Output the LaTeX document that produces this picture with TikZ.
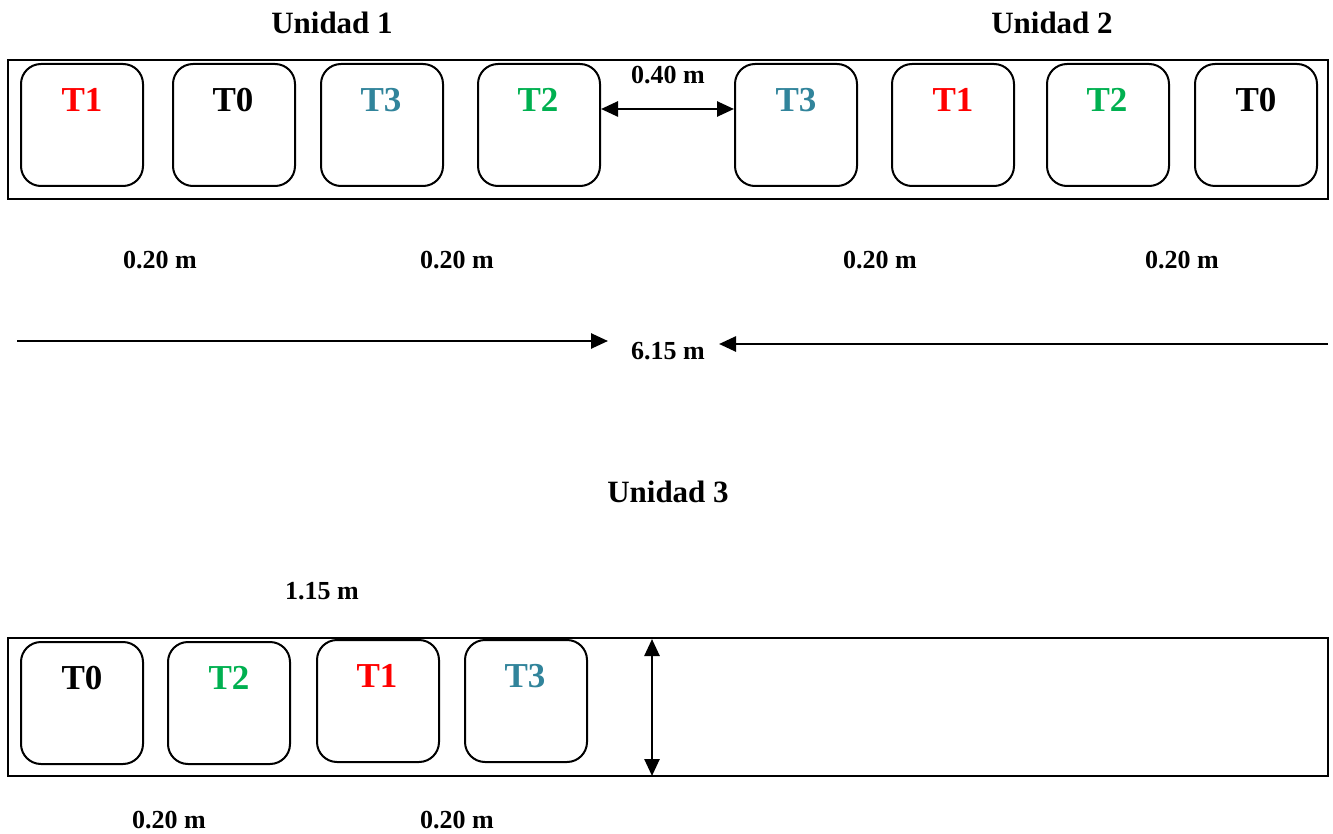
\documentclass[tikz,border=0pt]{standalone}
\usepackage{fontspec}
\setmainfont{Liberation Serif}
\usetikzlibrary{arrows.meta}
\definecolor{tred}{HTML}{FF0000}
\definecolor{tteal}{HTML}{31849B}
\definecolor{tgreen}{HTML}{00B050}
\begin{document}
\begin{tikzpicture}[x=1pt,y=-1pt,
  strip/.style={draw=black,line width=1.6pt},
  plot/.style={draw=black,line width=2pt,rounded corners=20pt,minimum width=122pt,minimum height=122pt,anchor=north west,inner sep=0pt},
  tlab/.style={font=\fontsize{35}{35}\selectfont\bfseries,anchor=center},
  title/.style={font=\fontsize{31}{31}\selectfont\bfseries},
  dim/.style={font=\fontsize{26}{26}\selectfont\bfseries},
  arr/.style={line width=2.6pt,-{Triangle[length=17pt,width=15pt]}},
  darr/.style={line width=2.6pt,{Triangle[length=17pt,width=15pt]}-{Triangle[length=17pt,width=15pt]}}]
\useasboundingbox (0,0) rectangle (1333,834);
% titles
\node[title] (u1) at (332,23) {Unidad 1};
\node[title] (u2) at (1052,23) {Unidad 2};
\node[title] (u3) at (668,492) {Unidad 3};
% strip 1
\draw[strip] (8,60) rectangle (1328,199);
\node[plot] (a1) at (20,63) {};
\node[plot] (a2) at (172,63) {};
\node[plot] (a3) at (320,63) {};
\node[plot] (a4) at (477,63) {};
\node[plot] (a5) at (734,63) {};
\node[plot] (a6) at (891,63) {};
\node[plot] (a7) at (1046,63) {};
\node[plot] (a8) at (1194,63) {};
\node[tlab,text=tred] at (82,100) {T1};
\node[tlab,text=black] at (233,100) {T0};
\node[tlab,text=tteal] at (381,100) {T3};
\node[tlab,text=tgreen] at (538,100) {T2};
\node[tlab,text=tteal] at (796,100) {T3};
\node[tlab,text=tred] at (953,100) {T1};
\node[tlab,text=tgreen] at (1107,100) {T2};
\node[tlab,text=black] at (1256,100) {T0};
% 0.40 m
\node[dim] (d040) at (668,75) {0.40 m};
\draw[darr] (a4.east |- 0,109) -- (a5.west |- 0,109);
% 0.20 m
\node[dim] at (160,260) {0.20 m};
\node[dim] at (457,260) {0.20 m};
\node[dim] at (880,260) {0.20 m};
\node[dim] at (1182,260) {0.20 m};
% 6.15 m
\node[dim] (d615) at (668,351) {6.15 m};
\coordinate (l0) at (17,341);
\coordinate (r0) at (1328,344);
\draw[arr] (l0) -- (608,341);
\draw[arr] (r0) -- (719,344);
% strip 3
\node[dim] at (322,591) {1.15 m};
\draw[strip] (8,638) rectangle (1328,776);
\node[plot] (b1) at (20,641) {};
\node[plot] (b2) at (167,641) {};
\node[plot] (b3) at (316,639) {};
\node[plot] (b4) at (464,639) {};
\node[tlab,text=black] at (82,678) {T0};
\node[tlab,text=tgreen] at (229,678) {T2};
\node[tlab,text=tred] at (377,676) {T1};
\node[tlab,text=tteal] at (525,676) {T3};
\coordinate (vt) at (652,639);
\coordinate (vb) at (652,776);
\draw[darr] (vt) -- (vb);
\node[dim] at (169,820) {0.20 m};
\node[dim] at (457,820) {0.20 m};
\end{tikzpicture}
\end{document}
